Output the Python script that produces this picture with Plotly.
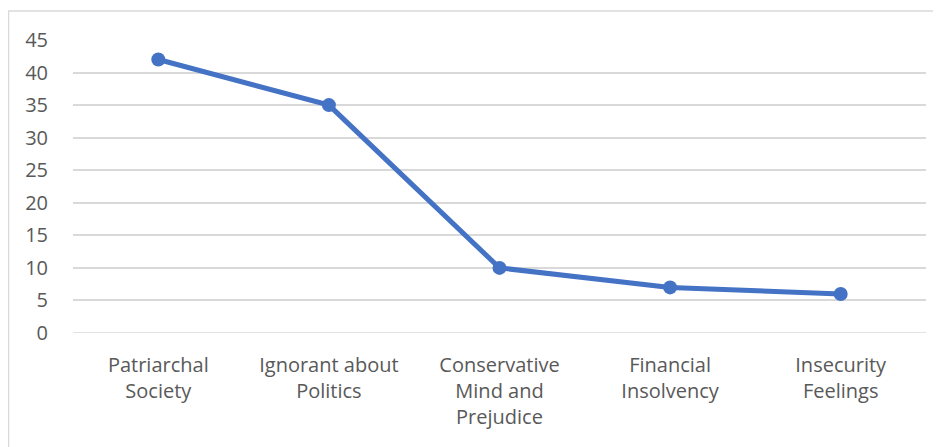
import plotly.graph_objects as go

categories = ["Patriarchal<br>Society", "Ignorant about<br>Politics", "Conservative<br>Mind and<br>Prejudice",
              "Financial<br>Insolvency", "Insecurity<br>Feelings"]
values = [42, 35, 10, 7, 6]
y_ticks = [0, 5, 10, 15, 20, 25, 30, 35, 40, 45]

# page body has an 8px margin, so the figure is offset by 8px
W, H = 933, 439
L, R, T, B = 65, 15, 32, 114

fig = go.Figure(go.Scatter(
    x=categories, y=values, mode="lines+markers",
    line=dict(color="#4472C4", width=5),
    marker=dict(color="#4472C4", size=14),
    cliponaxis=False,
))

pw = W - L - R
ph = H - T - B
bx = (0.5 - L) / pw
by = 1 + (T - 3) / ph
fig.add_shape(type="path", xref="paper", yref="paper",
              path=f"M {bx} {-2} L {bx} {by} L {1 + (R + 5) / pw} {by}",
              line=dict(color="#D9D9D9", width=1.5), layer="below")

fig.update_layout(
    width=W, height=H,
    margin=dict(l=L, r=R, t=T, b=B, autoexpand=False),
    paper_bgcolor="white", plot_bgcolor="white",
    font=dict(family="Open Sans, sans-serif", size=20, color="#595959"),
    showlegend=False,
    xaxis=dict(type="category", range=[-0.5, 4.5], showgrid=False, zeroline=False,
               showline=False, ticks="", ticklabelstandoff=18),
    yaxis=dict(range=[0, 45], tickvals=y_ticks, showgrid=True, gridcolor="#D9D9D9",
               gridwidth=1.5, zeroline=False, showline=False, ticks="", ticklabelstandoff=24),
)
fig.add_shape(type="line", xref="paper", yref="y", x0=0, x1=1, y0=0, y1=0,
              line=dict(color="#D9D9D9", width=1.5), layer="below")

fig.write_html("out.html")
